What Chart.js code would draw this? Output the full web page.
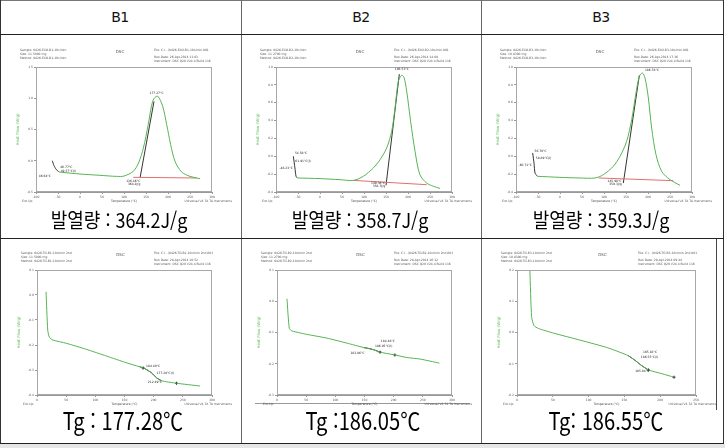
<!DOCTYPE html>
<html lang="ko">
<head>
<meta charset="UTF-8">
<title>DSC B1 B2 B3</title>
<script src="https://cdn.jsdelivr.net/npm/chart.js@4.4.0/dist/chart.umd.min.js"></script>
<style>
  body { margin: 0; width: 725px; height: 448px; position: relative; overflow: hidden; background: #fff; font-family: "DejaVu Sans", sans-serif; }
  .ln { position: absolute; background: #333; }
  .hd { position: absolute; top: 8px; width: 240px; text-align: center; font-size: 14px; line-height: 18px; letter-spacing: -0.5px; color: #111; }
  .cap { position: absolute; width: 240px; text-align: center; white-space: nowrap; font-family: "Noto Sans CJK KR", sans-serif; color: #000; }
  .heat { top: 207px; font-size: 20px; line-height: 26px; transform: scaleX(0.9); }
  .tg { top: 406px; font-size: 24px; line-height: 28px; transform: scaleX(0.84); }
  canvas { position: absolute; }
</style>
</head>
<body>
<!-- table grid -->
<div class="ln" style="left:0;top:0;width:724px;height:1px;background:#777"></div>
<div class="ln" style="left:0;top:0;width:1px;height:444px"></div>
<div class="ln" style="left:723px;top:0;width:1px;height:444px"></div>
<div class="ln" style="left:241px;top:0;width:1px;height:444px;background:#666"></div>
<div class="ln" style="left:481px;top:0;width:1px;height:444px;background:#666"></div>
<div class="ln" style="left:0;top:34px;width:724px;height:1px;background:#222"></div>
<div class="ln" style="left:0;top:238px;width:724px;height:1px;background:#222"></div>
<div class="ln" style="left:0;top:443px;width:724px;height:1px;background:#222"></div>
<div class="ln" style="left:0;top:444px;width:725px;height:4px;background:#e6e6e6"></div>
<div class="ln" style="left:255px;top:403px;width:215px;height:1px;background:#999"></div>
<div class="ln" style="left:716px;top:239px;width:1px;height:171px;background:#444"></div>

<div class="hd" style="left:0">B1</div>
<div class="hd" style="left:241px">B2</div>
<div class="hd" style="left:481px">B3</div>

<canvas id="b1top" width="237" height="173" style="left:2px;top:36px"></canvas>
<canvas id="b2top" width="237" height="173" style="left:242px;top:36px"></canvas>
<canvas id="b3top" width="237" height="173" style="left:482px;top:36px"></canvas>
<canvas id="b1bot" width="237" height="167" style="left:2px;top:240px"></canvas>
<canvas id="b2bot" width="237" height="167" style="left:242px;top:240px"></canvas>
<canvas id="b3bot" width="237" height="167" style="left:482px;top:240px"></canvas>

<div class="cap heat" style="left:-1px">발열량 : 364.2J/g</div>
<div class="cap heat" style="left:240px">발열량 : 358.7J/g</div>
<div class="cap heat" style="left:481px">발열량 : 359.3J/g</div>
<div class="cap tg" style="left:3px">Tg : 177.28℃</div>
<div class="cap tg" style="left:243px">Tg :186.05℃</div>
<div class="cap tg" style="left:486px">Tg: 186.55℃</div>

<script>
// ---- axis ticks ----
const topXTicks = [-100, -50, 0, 50, 100, 150, 200, 250, 300];
const b1TopYTicks = [-0.5, 0, 0.5, 1.0, 1.5];
const b23TopYTicks = [-0.4, -0.2, 0, 0.2, 0.4, 0.6, 0.8, 1.0];
const botXTicks = [0, 50, 100, 150, 200, 250, 300];
const b3BotXTicks = [0, 50, 100, 150, 200, 250];
const b1BotYTicks = [-0.4, -0.3, -0.2, -0.1, 0, 0.1];
const b2BotYTicks = [-0.3, -0.2, -0.1, 0, 0.1];
const b3BotYTicks = [-0.2, -0.1, 0, 0.1, 0.2];

// ---- B1 cure exotherm ----
const b1Temp = [-47, -42, 0, 45, 83, 100, 121, 133, 144, 155, 165, 173, 178, 188, 197, 206, 216, 231, 250, 273];
const b1Flow = [-0.18, -0.185, -0.212, -0.233, -0.25, -0.245, -0.169, -0.036, 0.204, 0.577, 0.95, 1.03, 1.025, 0.87, 0.58, 0.26, -0.01, -0.18, -0.25, -0.287];
const b1StartTemp = [-63, -59, -54, -49, -47];
const b1StartFlow = [0.0, -0.08, -0.14, -0.17, -0.18];
const b1TanTemp = [136.4, 168.2];
const b1TanFlow = [-0.276, 0.95];
const b1BaseTemp = [121, 265];
const b1BaseFlow = [-0.265, -0.276];
const b1NoteTemp = [-45, -44, -66, 174, 137, 137];
const b1NoteFlow = [-0.11, -0.16, -0.25, 1.08, -0.33, -0.37];
const b1NoteText = ['46.77°C', '49.57°C(I)', '46.64°C', '177.27°C', '136.46°C', '364.2J/g'];

// ---- B2 cure exotherm ----
const b2Temp = [-51.5, 0, 45.5, 75.8, 98.5, 121.2, 136.4, 151.5, 162.9, 170.5, 178, 185.6, 190.9, 197, 206, 216, 227, 242.4, 257.6, 272.7];
const b2Flow = [-0.243, -0.25, -0.262, -0.27, -0.224, -0.131, -0.038, 0.093, 0.28, 0.54, 0.84, 0.907, 0.884, 0.73, 0.39, 0.056, -0.206, -0.3, -0.336, -0.36];
const b2StartTemp = [-60.6, -57, -54.5, -51.5];
const b2StartFlow = [0.0, -0.13, -0.224, -0.243];
const b2TanTemp = [150, 180.3];
const b2TanFlow = [-0.325, 0.92];
const b2BaseTemp = [75.8, 242.4];
const b2BaseFlow = [-0.27, -0.318];
const b2NoteTemp = [-57, -56, -62, 186, 148, 148];
const b2NoteFlow = [0.03, -0.05, -0.13, 0.97, -0.3, -0.34];
const b2NoteText = ['54.58°C', '61.91°C(I)', '-48.23°C', '186.53°C', '149.36°C', '358.7J/g'];

// ---- B3 cure exotherm ----
const b3Temp = [-51.5, 0, 45.5, 79.5, 98.5, 121.2, 136.4, 151.5, 162.9, 172.7, 180.3, 187.1, 193.2, 200.8, 208.3, 218.2, 231, 250, 272.7];
const b3Flow = [-0.224, -0.236, -0.243, -0.243, -0.206, -0.112, 0.0, 0.168, 0.41, 0.71, 0.895, 0.933, 0.877, 0.653, 0.317, 0.018, -0.168, -0.262, -0.325];
const b3StartTemp = [-62.1, -59, -56.8, -51.5];
const b3StartFlow = [0.037, -0.08, -0.187, -0.224];
const b3TanTemp = [143.9, 180.3];
const b3TanFlow = [-0.3, 0.907];
const b3BaseTemp = [88, 257.6];
const b3BaseFlow = [-0.243, -0.273];
const b3NoteTemp = [-58, -55, -64, 193, 140, 140];
const b3NoteFlow = [0.06, -0.02, -0.1, 0.96, -0.275, -0.31];
const b3NoteText = ['56.70°C', '58.89°C(I)', '-60.71°C', '186.78°C', '145.98°C', '359.3J/g'];

// ---- B1 glass transition (2nd heat) ----
const b1gTemp = [15.5, 18.4, 21.2, 27, 50, 84.3, 118.8, 153.2, 176, 184.4, 196.2, 204.8, 213.4, 239.2, 279.4];
const b1gFlow = [0.013, -0.14, -0.169, -0.18, -0.193, -0.217, -0.244, -0.271, -0.287, -0.294, -0.311, -0.331, -0.343, -0.353, -0.364];
const b1gTrTemp = [176, 184.4, 196.2, 204.8, 213.4];
const b1gTrFlow = [-0.287, -0.294, -0.311, -0.331, -0.343];
const b1gMarkTemp = [182, 239.2];
const b1gMarkFlow = [-0.292, -0.353];
const b1gNoteTemp = [187, 205, 190];
const b1gNoteFlow = [-0.283, -0.312, -0.348];
const b1gNoteText = ['184.40°C', '177.28°C(I)', '212.49°C'];

// ---- B2 glass transition ----
const b2gTemp = [17.1, 21.1, 25.7, 51.3, 85.6, 119.8, 148.3, 165.4, 176.8, 199.7, 222.5, 245.3, 278.4];
const b2gFlow = [0.008, -0.087, -0.095, -0.106, -0.118, -0.134, -0.148, -0.155, -0.163, -0.171, -0.18, -0.185, -0.198];
const b2gTrTemp = [148.3, 157, 165.4, 176.8];
const b2gTrFlow = [-0.148, -0.151, -0.155, -0.163];
const b2gMarkTemp = [176.8, 202];
const b2gMarkFlow = [-0.163, -0.172];
const b2gNoteTemp = [178, 168, 150];
const b2gNoteFlow = [-0.128, -0.145, -0.166];
const b2gNoteText = ['184.48°C', '186.05°C(I)', '183.86°C'];

// ---- B3 glass transition ----
const b3gTemp = [18, 20.4, 23.7, 29.8, 51.1, 89, 126.9, 155.3, 164.8, 174.2, 183.7, 202.7, 219.2];
const b3gFlow = [0.198, 0.051, 0.022, 0.013, -0.002, -0.025, -0.049, -0.074, -0.089, -0.106, -0.12, -0.132, -0.143];
const b3gTrTemp = [155.3, 164.8, 174.2, 183.7];
const b3gTrFlow = [-0.074, -0.089, -0.106, -0.12];
const b3gMarkTemp = [183.7, 219.2];
const b3gMarkFlow = [-0.12, -0.143];
const b3gNoteTemp = [176, 173, 165];
const b3gNoteFlow = [-0.062, -0.08, -0.125];
const b3gNoteText = ['165.83°C', '186.55°C(I)', '185.04°C'];

const GREEN = '#55b455';

function pts(xs, ys) { return xs.map((x, i) => ({ x: x, y: ys[i] })); }

// frame, instrument header/footer texts and peak annotations
const decor = {
  id: 'decor',
  afterDraw(chart, args, o) {
    const ctx = chart.ctx, a = chart.chartArea;
    const sx = chart.scales.x, sy = chart.scales.y;
    ctx.save();
    ctx.strokeStyle = '#a8a8a8';
    ctx.lineWidth = 1;
    ctx.strokeRect(Math.round(a.left) + 0.5, Math.round(a.top) + 0.5, Math.round(a.width) - 1, Math.round(a.height) - 1);

    ctx.fillStyle = '#555';
    ctx.textBaseline = 'middle';
    ctx.font = '3px "DejaVu Sans"';
    ctx.textAlign = 'left';
    o.left.forEach((s, i) => ctx.fillText(s, a.left - 16, a.top - 17 + i * 4));
    const ry = [-17, -10, -6];
    o.right.forEach((s, i) => ctx.fillText(s, a.right - 58, a.top + ry[i]));
    ctx.fillText('Exo Up', a.left - 14, a.bottom + 9);
    ctx.textAlign = 'right';
    ctx.fillText('Universal V4.7A TA Instruments', a.right + 20, a.bottom + 9);
    ctx.textAlign = 'center';
    ctx.font = '4px "DejaVu Sans"';
    ctx.fillText('DSC', (a.left + a.right) / 2 - 4, a.top - 15);

    ctx.fillStyle = '#222';
    ctx.font = '3px "DejaVu Sans"';
    o.noteText.forEach((s, i) => {
      ctx.textAlign = o.noteAlign[i];
      ctx.fillText(s, sx.getPixelForValue(o.noteTemp[i]), sy.getPixelForValue(o.noteFlow[i]));
    });
    ctx.restore();
  }
};

function dscChart(id, p) {
  const ds = [];
  p.lines.forEach(l => ds.push({
    data: pts(l[0], l[1]), borderColor: l[2], borderWidth: 1, pointRadius: 0,
    tension: l[3] || 0, fill: false
  }));
  if (p.marks) ds.push({
    data: pts(p.marks[0], p.marks[1]), showLine: false, borderColor: '#222',
    pointStyle: 'cross', pointRadius: 1.5, borderWidth: 1
  });
  const tickFix = list => function (scale) { scale.ticks = list.map(v => ({ value: v })); };
  new Chart(document.getElementById(id), {
    type: 'line',
    data: { datasets: ds },
    plugins: [decor],
    options: {
      responsive: false,
      animation: false,
      events: [],
      layout: { padding: p.pad },
      plugins: {
        legend: { display: false },
        tooltip: { enabled: false },
        decor: p.decor
      },
      scales: {
        x: {
          type: 'linear', min: p.xTicks[0], max: p.xTicks[p.xTicks.length - 1],
          afterBuildTicks: tickFix(p.xTicks),
          afterFit: s => { s.height = 11; },
          grid: { drawOnChartArea: false, tickLength: 2, color: '#999' },
          border: { color: '#999' },
          ticks: { font: { size: 3, family: 'DejaVu Sans' }, color: '#555', padding: 1, autoSkip: false, maxRotation: 0 },
          title: { display: true, text: 'Temperature (°C)', font: { size: 3, family: 'DejaVu Sans' }, color: '#444', padding: 0 }
        },
        y: {
          type: 'linear', min: p.yTicks[0], max: p.yTicks[p.yTicks.length - 1],
          afterBuildTicks: tickFix(p.yTicks),
          afterFit: s => { s.width = 20; },
          grid: { drawOnChartArea: false, tickLength: 2, color: '#999' },
          border: { color: '#999' },
          ticks: { font: { size: 3, family: 'DejaVu Sans' }, color: '#555', padding: 1, callback: v => v.toFixed(1) },
          title: { display: true, text: 'Heat Flow (W/g)', font: { size: 4, family: 'DejaVu Sans' }, color: GREEN, padding: 0 }
        }
      }
    }
  });
}

const topPad = { left: 14, right: 27, top: 31, bottom: 6 };
const botPad = { left: 15, right: 27, top: 30, bottom: 1 };
const L3 = ['left', 'left', 'right', 'center', 'right', 'right'];
const G3 = ['left', 'left', 'right'];

dscChart('b1top', {
  xTicks: topXTicks, yTicks: b1TopYTicks, pad: topPad,
  lines: [[b1Temp, b1Flow, GREEN, 0.3], [b1BaseTemp, b1BaseFlow, '#e07070'],
          [b1StartTemp, b1StartFlow, '#333', 0.2], [b1TanTemp, b1TanFlow, '#333']],
  decor: {
    left: ['Sample: 0426-EXO-B1-10c/min', 'Size: 11.5000 mg', 'Method: 0426-EXO-B1-10c/min'],
    right: ['File: C:\\...\\0426-EXO-B1-10c/min.001', 'Run Date: 26-Apr-2014 11:03', 'Instrument: DSC Q20 V24.4 Build 116'],
    noteTemp: b1NoteTemp, noteFlow: b1NoteFlow, noteText: b1NoteText, noteAlign: L3
  }
});
dscChart('b2top', {
  xTicks: topXTicks, yTicks: b23TopYTicks, pad: topPad,
  lines: [[b2Temp, b2Flow, GREEN, 0.3], [b2BaseTemp, b2BaseFlow, '#e07070'],
          [b2StartTemp, b2StartFlow, '#333', 0.2], [b2TanTemp, b2TanFlow, '#333']],
  decor: {
    left: ['Sample: 0426-EXO-B2-10c/min', 'Size: 11.2700 mg', 'Method: 0426-EXO-B2-10c/min'],
    right: ['File: C:\\...\\0426-EXO-B2-10c/min.001', 'Run Date: 26-Apr-2014 14:09', 'Instrument: DSC Q20 V24.4 Build 116'],
    noteTemp: b2NoteTemp, noteFlow: b2NoteFlow, noteText: b2NoteText, noteAlign: L3
  }
});
dscChart('b3top', {
  xTicks: topXTicks, yTicks: b23TopYTicks, pad: topPad,
  lines: [[b3Temp, b3Flow, GREEN, 0.3], [b3BaseTemp, b3BaseFlow, '#e07070'],
          [b3StartTemp, b3StartFlow, '#333', 0.2], [b3TanTemp, b3TanFlow, '#333']],
  decor: {
    left: ['Sample: 0426-EXO-B3-10c/min', 'Size: 10.8300 mg', 'Method: 0426-EXO-B3-10c/min'],
    right: ['File: C:\\...\\0426-EXO-B3-10c/min.001', 'Run Date: 26-Apr-2014 17:36', 'Instrument: DSC Q20 V24.4 Build 116'],
    noteTemp: b3NoteTemp, noteFlow: b3NoteFlow, noteText: b3NoteText, noteAlign: ['left', 'left', 'right', 'left', 'right', 'right']
  }
});
dscChart('b1bot', {
  xTicks: botXTicks, yTicks: b1BotYTicks, pad: botPad,
  lines: [[b1gTemp, b1gFlow, GREEN, 0.2], [b1gTrTemp, b1gTrFlow, '#222', 0.2]],
  marks: [b1gMarkTemp, b1gMarkFlow],
  decor: {
    left: ['Sample: 0426-TG-B1-10c/min 2nd', 'Size: 11.5000 mg', 'Method: 0426-TG-B1-10c/min 2nd'],
    right: ['File: C:\\...\\0426-TG-B1-10c/min 2nd.001', 'Run Date: 28-Apr-2014 10:52', 'Instrument: DSC Q20 V24.4 Build 116'],
    noteTemp: b1gNoteTemp, noteFlow: b1gNoteFlow, noteText: b1gNoteText, noteAlign: ['left', 'left', 'left']
  }
});
dscChart('b2bot', {
  xTicks: botXTicks, yTicks: b2BotYTicks, pad: botPad,
  lines: [[b2gTemp, b2gFlow, GREEN, 0.2], [b2gTrTemp, b2gTrFlow, '#222', 0.2]],
  marks: [b2gMarkTemp, b2gMarkFlow],
  decor: {
    left: ['Sample: 0426-TG-B2-10c/min 2nd', 'Size: 11.2700 mg', 'Method: 0426-TG-B2-10c/min 2nd'],
    right: ['File: C:\\...\\0426-TG-B2-10c/min 2nd.001', 'Run Date: 28-Apr-2014 16:12', 'Instrument: DSC Q20 V24.4 Build 116'],
    noteTemp: b2gNoteTemp, noteFlow: b2gNoteFlow, noteText: b2gNoteText, noteAlign: G3
  }
});
dscChart('b3bot', {
  xTicks: b3BotXTicks, yTicks: b3BotYTicks, pad: { left: 15, right: 23, top: 30, bottom: 1 },
  lines: [[b3gTemp, b3gFlow, GREEN, 0.2], [b3gTrTemp, b3gTrFlow, '#222', 0.2]],
  marks: [b3gMarkTemp, b3gMarkFlow],
  decor: {
    left: ['Sample: 0426-TG-B3-10c/min 2nd', 'Size: 10.8300 mg', 'Method: 0426-TG-B3-10c/min 2nd'],
    right: ['File: C:\\...\\0426-TG-B3-10c/min 2nd.001', 'Run Date: 29-Apr-2014 09:44', 'Instrument: DSC Q20 V24.4 Build 116'],
    noteTemp: b3gNoteTemp, noteFlow: b3gNoteFlow, noteText: b3gNoteText, noteAlign: ['left', 'left', 'left']
  }
});
</script>
</body>
</html>
